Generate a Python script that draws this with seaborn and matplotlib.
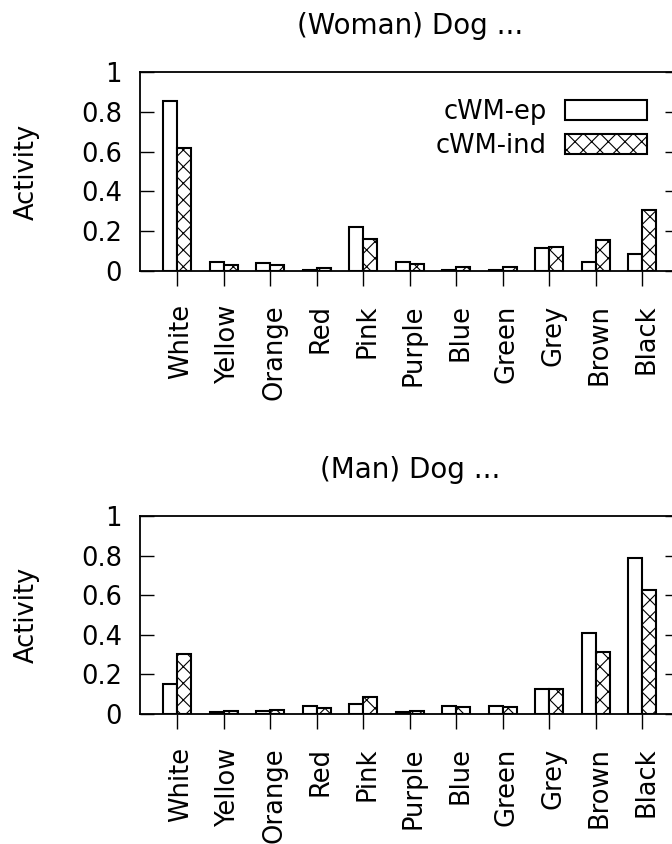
import pandas as pd
import seaborn as sns
import matplotlib.pyplot as plt
from matplotlib.transforms import ScaledTranslation

colours = ['White', 'Yellow', 'Orange', 'Red', 'Pink', 'Purple',
           'Blue', 'Green', 'Grey', 'Brown', 'Black']
series = ['cWM-ep', 'cWM-ind']

woman_ep = [0.856, 0.045, 0.042, 0.007, 0.223, 0.047, 0.007, 0.007, 0.116, 0.045, 0.084]
woman_ind = [0.619, 0.032, 0.032, 0.017, 0.161, 0.037, 0.020, 0.020, 0.122, 0.154, 0.307]
man_ep = [0.150, 0.010, 0.013, 0.040, 0.049, 0.010, 0.040, 0.040, 0.124, 0.408, 0.788]
man_ind = [0.301, 0.017, 0.020, 0.030, 0.087, 0.017, 0.035, 0.035, 0.124, 0.313, 0.624]

y_ticks = [0, 0.2, 0.4, 0.6, 0.8, 1]
y_tick_labels = ['0', '0.2', '0.4', '0.6', '0.8', '1']

sns.set_theme(style='white')
plt.rcParams['font.family'] = ['DejaVu Sans']
plt.rcParams['hatch.linewidth'] = 0.8
for key in ['text.color', 'axes.labelcolor', 'xtick.color', 'ytick.color']:
    plt.rcParams[key] = 'black'

W, H = 672, 844
fig = plt.figure(figsize=(W / 100, H / 100), dpi=100)

x_left, x_right = 140, 679.5


def make_axes(top_px, bottom_px):
    return fig.add_axes([x_left / W, 1 - bottom_px / H,
                         (x_right - x_left) / W, (bottom_px - top_px) / H])


def draw_panel(ax, ep, ind, title, legend=False):
    df = pd.DataFrame({
        'colour': colours * 2,
        'series': [series[0]] * len(colours) + [series[1]] * len(colours),
        'activity': ep + ind,
    })
    sns.barplot(data=df, x='colour', y='activity', hue='series',
                order=colours, hue_order=series, width=0.6,
                palette=['white', 'white'], saturation=1,
                edgecolor='black', linewidth=1.5, legend=False, ax=ax)
    for bar in ax.containers[1]:
        bar.set_hatch('xx')

    ax.set_xlim(-0.8, len(colours) - 0.2)
    ax.set_ylim(0, 1)
    ax.set_yticks(y_ticks)
    ax.set_yticklabels(y_tick_labels)
    ax.tick_params(axis='y', direction='in', length=10, width=1.0,
                   left=True, right=True, labelsize=18.5, pad=13)
    ax.tick_params(axis='x', direction='out', length=11, width=1.0,
                   bottom=True, top=False, labelsize=18.5, pad=13)
    ax.set_xticks(range(len(colours)))
    ax.set_xticklabels(colours, rotation=90)
    shift = ScaledTranslation(4 / 100, 0, fig.dpi_scale_trans)
    for lab in ax.get_xticklabels():
        lab.set_transform(lab.get_transform() + shift)
    for spine in ax.spines.values():
        spine.set_visible(True)
        spine.set_color('black')
        spine.set_linewidth(1.3)
    ax.set_xlabel('')
    ax.set_ylabel('Activity', fontsize=18.5)
    ax.yaxis.set_label_coords(-0.185, 0.5)
    ax.set_title(title, fontsize=20, pad=27)

    if legend:
        ax.legend(handles=[ax.containers[0][0], ax.containers[1][0]],
                  labels=series, fontsize=18.5, frameon=False, markerfirst=False,
                  handlelength=3.2, handleheight=0.8, labelspacing=0.3,
                  handletextpad=0.7, borderpad=0, borderaxespad=0,
                  loc='upper right', bbox_to_anchor=(647 / W, 1 - 99 / H),
                  bbox_transform=fig.transFigure)


ax_top = make_axes(72, 271)
ax_bot = make_axes(516, 714)
draw_panel(ax_top, woman_ep, woman_ind, '(Woman) Dog ...', legend=True)
draw_panel(ax_bot, man_ep, man_ind, '(Man) Dog ...')

fig.savefig('out.png', dpi=100)
